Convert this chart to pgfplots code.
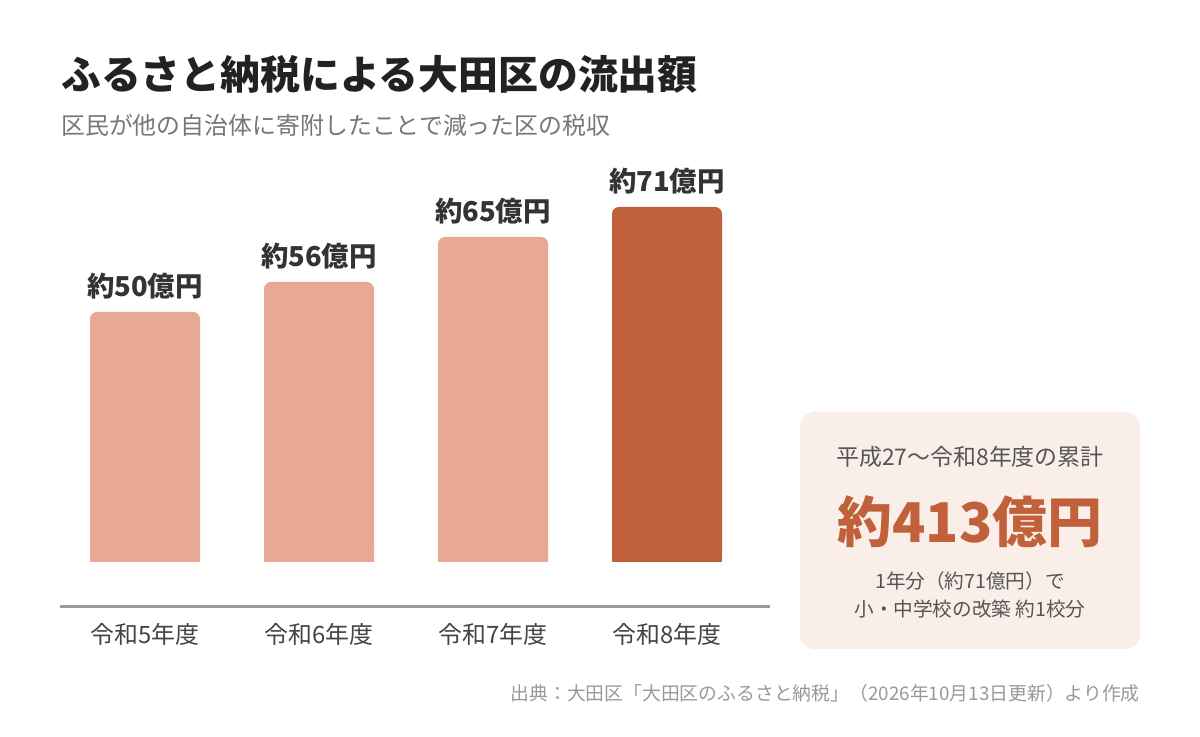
\documentclass[border=0pt]{standalone}
\usepackage{fontspec}
\setmainfont{Noto Sans CJK JP}
\usepackage{pgfplots}
\pgfplotsset{compat=1.18}
\definecolor{barlight}{HTML}{E7A992}
\definecolor{bardark}{HTML}{C1613C}
\definecolor{boxfill}{HTML}{FAEEE8}
\definecolor{titlec}{HTML}{222222}
\definecolor{subc}{HTML}{777777}
\definecolor{tickc}{HTML}{444444}
\definecolor{labc}{HTML}{333333}
\definecolor{boxtxt}{HTML}{555555}
\definecolor{srcc}{HTML}{999999}
\definecolor{axc}{HTML}{999999}
\begin{document}
\begin{tikzpicture}[x=1bp,y=1bp]
\fill[white] (0,0) rectangle (1200,737);
\begin{axis}[
  at={(60bp,130bp)}, anchor=south west,
  scale only axis, width=710bp, height=445bp,
  xmin=-0.4885, xmax=3.592, ymin=-9, ymax=80,
  axis x line=bottom, axis y line=none,
  x axis line style={-, draw=axc, line width=3bp},
  xtick={0,1,2,3}, major tick length=0pt,
  xticklabels={令和5年度,令和6年度,令和7年度,令和8年度},
  xticklabel style={font=\fontsize{24}{26}\selectfont, text=tickc, yshift=-13bp},
  clip=false,
  /pgf/number format/assume math mode=true,
]
\addplot[ybar, bar width=110bp, bar shift=0pt, fill=barlight, draw=none, rounded corners=7bp,
  nodes near coords={約\pgfmathprintnumber{\pgfplotspointmeta}億円},
  every node near coord/.append style={anchor=center, yshift=26bp, font=\fontsize{27.5}{29}\selectfont\bfseries, text=labc}]
  coordinates {(0,50) (1,56) (2,65)};
\addplot[ybar, bar width=110bp, bar shift=0pt, fill=bardark, draw=none, rounded corners=7bp,
  nodes near coords={約\pgfmathprintnumber{\pgfplotspointmeta}億円},
  every node near coord/.append style={anchor=center, yshift=26bp, font=\fontsize{27.5}{29}\selectfont\bfseries, text=labc}]
  coordinates {(3,71)};
\addplot[ybar, bar width=110bp, bar shift=0pt, fill=barlight, draw=none, forget plot]
  coordinates {(0,3) (1,3) (2,3)};
\addplot[ybar, bar width=110bp, bar shift=0pt, fill=bardark, draw=none, forget plot]
  coordinates {(3,3)};
\end{axis}
\node[anchor=west, inner sep=0pt, text=titlec, font=\fontsize{40}{42}\selectfont\bfseries] at (61,663) {ふるさと納税による大田区の流出額};
\node[anchor=west, inner sep=0pt, text=subc, font=\fontsize{24}{26}\selectfont] at (61,612) {区民が他の自治体に寄附したことで減った区の税収};
\fill[boxfill, rounded corners=15bp] (800,325) rectangle (1140,88);
\node[inner sep=0pt, text=boxtxt, font=\fontsize{23}{25}\selectfont] at (970,280) {平成27〜令和8年度の累計};
\node[inner sep=0pt, text=bardark, font=\fontsize{55}{58}\selectfont\bfseries] at (970,215) {約413億円};
\node[inner sep=0pt, text=boxtxt, font=\fontsize{19.7}{21}\selectfont] at (970,156) {1年分（約71億円）で};
\node[inner sep=0pt, text=boxtxt, font=\fontsize{19.7}{21}\selectfont] at (970,128) {小・中学校の改築 約1校分};
\node[anchor=east, inner sep=0pt, text=srcc, font=\fontsize{18.9}{20}\selectfont] at (1140,44) {出典：大田区「大田区のふるさと納税」（2026年10月13日更新）より作成};
\end{tikzpicture}
\end{document}
